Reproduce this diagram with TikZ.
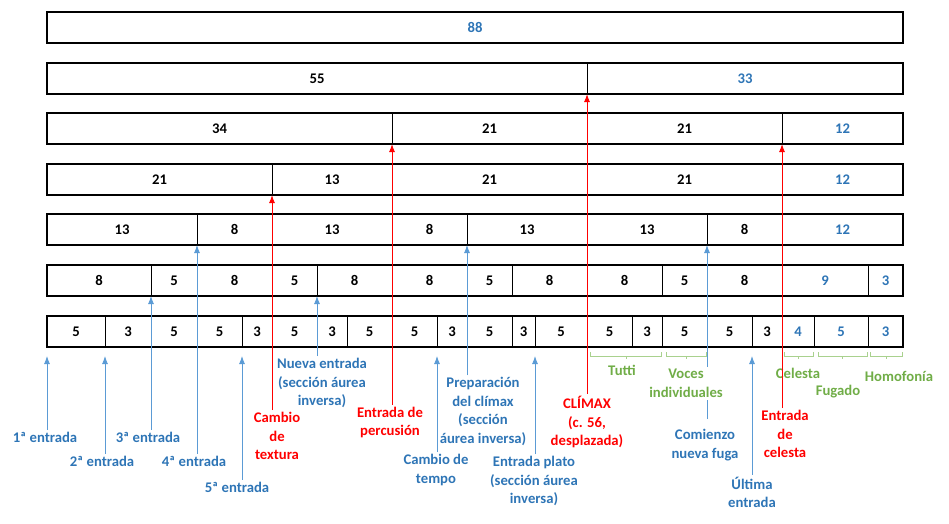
\documentclass[tikz,border=0pt]{standalone}
\usepackage{fontspec}
\setmainfont{Carlito}
\usetikzlibrary{arrows.meta}
\newcommand{\h}{31pt}
\definecolor{numblue}{HTML}{2E75B6}
\definecolor{arrblue}{HTML}{5B9BD5}
\definecolor{txtgreen}{HTML}{70AD47}
\definecolor{brgreen}{HTML}{A9D18E}

\begin{document}
\begin{tikzpicture}[x=1pt, y=-1pt, font=\fontsize{14.7}{18.5}\selectfont\bfseries,
    cell/.style={draw, rectangle, anchor=north west, minimum height=\h, inner sep=0pt, outer sep=0pt, line width=0.6pt},
    blue num/.style={text=numblue},
    frame/.style={line width=1.2pt},
    lbl/.style={align=center, inner sep=2pt},
    blue lbl/.style={lbl, text=numblue},
    red lbl/.style={lbl, text=red},
    green lbl/.style={lbl, text=txtgreen},
    bluearr/.style={draw=arrblue, line width=0.9pt, -{Latex[length=8pt,width=6pt]}},
    redarr/.style={draw=red, line width=1pt, -{Latex[length=8pt,width=6pt]}},
    brace/.style={draw=brgreen, line width=1pt}]
    \useasboundingbox (0,0) rectangle (949,523);

    % First row
    \node[cell, blue num, minimum width=856pt] (r1-1) at (47,12) {88};

    % Second row
    \node[cell, minimum width=540pt] (r2-1) at (47,63) {55};
    \node[cell, blue num, minimum width=316pt] (r2-2) at (587,63) {33};

    % Third row
    \node[cell, minimum width=345pt] (r3-1) at (47,113) {34};
    \node[cell, minimum width=195pt] (r3-2) at (392,113) {21};
    \node[cell, minimum width=195pt] (r3-3) at (587,113) {21};
    \node[cell, blue num, minimum width=121pt] (r3-4) at (782,113) {12};

    % Fourth row
    \node[cell, minimum width=225pt] (r4-1) at (47,164) {21};
    \node[cell, minimum width=120pt] (r4-2) at (272,164) {13};
    \node[cell, minimum width=195pt] (r4-3) at (392,164) {21};
    \node[cell, minimum width=195pt] (r4-4) at (587,164) {21};
    \node[cell, blue num, minimum width=121pt] (r4-5) at (782,164) {12};

    % Fifth row
    \node[cell, minimum width=150pt] (r5-1) at (47,214) {13};
    \node[cell, minimum width=75pt] (r5-2) at (197,214) {8};
    \node[cell, minimum width=120pt] (r5-3) at (272,214) {13};
    \node[cell, minimum width=75pt] (r5-4) at (392,214) {8};
    \node[cell, minimum width=120pt] (r5-5) at (467,214) {13};
    \node[cell, minimum width=120pt] (r5-6) at (587,214) {13};
    \node[cell, minimum width=75pt] (r5-7) at (707,214) {8};
    \node[cell, blue num, minimum width=121pt] (r5-8) at (782,214) {12};

    % Sixth row
    \node[cell, minimum width=104pt] (r6-1) at (47,265) {8};
    \node[cell, minimum width=46pt] (r6-2) at (151,265) {5};
    \node[cell, minimum width=75pt] (r6-3) at (197,265) {8};
    \node[cell, minimum width=45pt] (r6-4) at (272,265) {5};
    \node[cell, minimum width=75pt] (r6-5) at (317,265) {8};
    \node[cell, minimum width=75pt] (r6-6) at (392,265) {8};
    \node[cell, minimum width=45pt] (r6-7) at (467,265) {5};
    \node[cell, minimum width=75pt] (r6-8) at (512,265) {8};
    \node[cell, minimum width=75pt] (r6-9) at (587,265) {8};
    \node[cell, minimum width=45pt] (r6-10) at (662,265) {5};
    \node[cell, minimum width=75pt] (r6-11) at (707,265) {8};
    \node[cell, blue num, minimum width=86pt] (r6-12) at (782,265) {9};
    \node[cell, blue num, minimum width=35pt] (r6-13) at (868,265) {3};

    % Seventh row
    \node[cell, minimum width=58pt] (r7-1) at (47,316) {5};
    \node[cell, minimum width=46pt] (r7-2) at (105,316) {3};
    \node[cell, minimum width=46pt] (r7-3) at (151,316) {5};
    \node[cell, minimum width=45pt] (r7-4) at (197,316) {5};
    \node[cell, minimum width=30pt] (r7-5) at (242,316) {3};
    \node[cell, minimum width=45pt] (r7-6) at (272,316) {5};
    \node[cell, minimum width=30pt] (r7-7) at (317,316) {3};
    \node[cell, minimum width=45pt] (r7-8) at (347,316) {5};
    \node[cell, minimum width=45pt] (r7-9) at (392,316) {5};
    \node[cell, minimum width=30pt] (r7-10) at (437,316) {3};
    \node[cell, minimum width=45pt] (r7-11) at (467,316) {5};
    \node[cell, minimum width=23pt] (r7-12) at (512,316) {3};
    \node[cell, minimum width=52pt] (r7-13) at (535,316) {5};
    \node[cell, minimum width=45pt] (r7-14) at (587,316) {5};
    \node[cell, minimum width=30pt] (r7-15) at (632,316) {3};
    \node[cell, minimum width=45pt] (r7-16) at (662,316) {5};
    \node[cell, minimum width=45pt] (r7-17) at (707,316) {5};
    \node[cell, minimum width=30pt] (r7-18) at (752,316) {3};
    \node[cell, blue num, minimum width=32pt] (r7-19) at (782,316) {4};
    \node[cell, blue num, minimum width=54pt] (r7-20) at (814,316) {5};
    \node[cell, blue num, minimum width=35pt] (r7-21) at (868,316) {3};

    % Row frames
    \draw[frame] (r1-1.north west) rectangle (r1-1.south east);
    \draw[frame] (r2-1.north west) rectangle (r2-2.south east);
    \draw[frame] (r3-1.north west) rectangle (r3-4.south east);
    \draw[frame] (r4-1.north west) rectangle (r4-5.south east);
    \draw[frame] (r5-1.north west) rectangle (r5-8.south east);
    \draw[frame] (r6-1.north west) rectangle (r6-13.south east);
    \draw[frame] (r7-1.north west) rectangle (r7-21.south east);

    % Brackets
    \draw[brace] (590,352) -- (590,356) -- (661,356) -- (661,352) (626,356) -- (626,359);
    \draw[brace] (666,352) -- (666,356) -- (706,356) -- (706,352) (686,356) -- (686,359);
    \draw[brace] (784,352) -- (784,356) -- (813,356) -- (813,352) (798,356) -- (798,359);
    \draw[brace] (818,352) -- (818,356) -- (867,356) -- (867,352) (842,356) -- (842,359);
    \draw[brace] (870,352) -- (870,356) -- (902,356) -- (902,352) (886,356) -- (886,359);

    % Labels
    \node[blue lbl] (entrada1) at (45,437) {1ª entrada};
    \node[blue lbl] (entrada2) at (102,461) {2ª entrada};
    \node[blue lbl] (entrada3) at (148,437) {3ª entrada};
    \node[blue lbl] (entrada4) at (194,461) {4ª entrada};
    \node[blue lbl] (entrada5) at (237,487) {5ª entrada};
    \node[red lbl] (textura) at (277,436) {Cambio\\de\\textura};
    \node[blue lbl] (nueva) at (322,383) {Nueva entrada\\(sección áurea\\inversa)};
    \node[red lbl] (percusion) at (390,422.5) {Entrada de\\percusión};
    \node[blue lbl] (tempo) at (436,470) {Cambio de\\tempo};
    \node[blue lbl] (preparacion) at (483,411.5) {Preparación\\del clímax\\(sección\\áurea inversa)};
    \node[blue lbl] (plato) at (534,481) {Entrada plato\\(sección áurea\\inversa)};
    \node[red lbl] (climax) at (587,422) {CLÍMAX\\(c. 56,\\desplazada)};
    \node[green lbl] (tutti) at (622,370) {Tutti};
    \node[blue lbl] (comienzo) at (705,445) {Comienzo\\nueva fuga};
    \node[blue lbl] (ultima) at (752,492.5) {Última\\entrada};
    \node[red lbl] (celestaentra) at (785,434) {Entrada\\de\\celesta};
    \node[green lbl] (celesta) at (798,373) {Celesta};
    \node[green lbl] (fugado) at (838,392) {Fugado};
    \node[green lbl] (homofonia) at (899,376) {Homofonía};

    % Arrows
    \draw[bluearr, shorten >=9pt] (entrada1.north -| r7-1.south west) -- (r7-1.south west);
    \draw[bluearr, shorten >=9pt] (entrada2.north -| r7-1.south east) -- (r7-1.south east);
    \draw[bluearr] (entrada3.north -| r6-1.south east) -- (r6-1.south east);
    \draw[bluearr] (entrada4.north -| r5-1.south east) -- (r5-1.south east);
    \draw[bluearr, shorten >=9pt] (entrada5.north -| r7-4.south east) -- (r7-4.south east);
    \draw[bluearr] (nueva.north -| r6-4.south east) -- (r6-4.south east);
    \draw[bluearr, shorten >=9pt] (tempo.north -| r7-9.south east) -- (r7-9.south east);
    \draw[bluearr] (preparacion.north -| r5-4.south east) -- (r5-4.south east);
    \draw[bluearr, shorten >=9pt] (plato.north -| r7-12.south east) -- (r7-12.south east);
    \draw[bluearr] ([yshift=8pt]comienzo.north -| r5-6.south east) -- (r5-6.south east);
    \draw[bluearr, shorten >=9pt] (ultima.north -| r7-17.south east) -- (r7-17.south east);
    \draw[redarr] (textura.north -| r4-1.south east) -- (r4-1.south east);
    \draw[redarr] (percusion.north -| r3-1.south east) -- (r3-1.south east);
    \draw[redarr] (climax.north -| r2-1.south east) -- (r2-1.south east);
    \draw[redarr] (celestaentra.north -| r3-3.south east) -- (r3-3.south east);

    \node[green lbl, fill=white] (voces) at (686,383.5) {Voces\\individuales};
\end{tikzpicture}
\end{document}
